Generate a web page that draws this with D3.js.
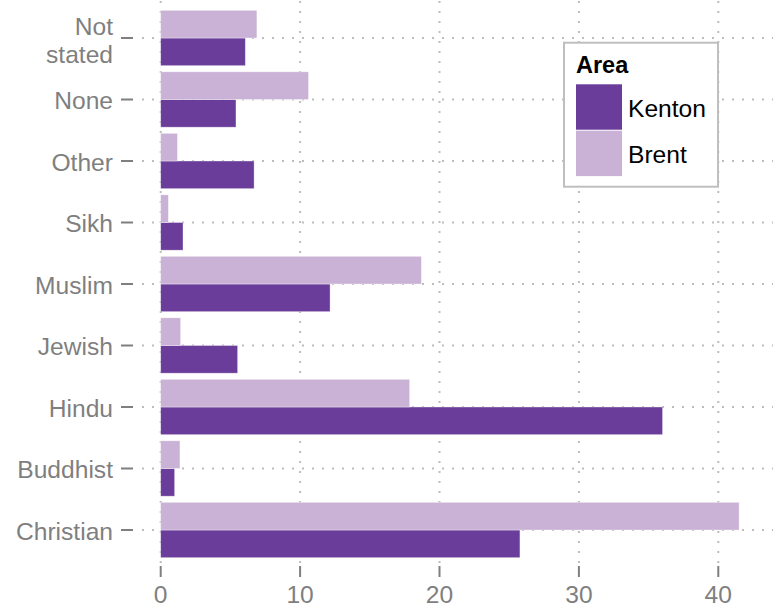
<!DOCTYPE html>
<html><head><meta charset="utf-8">
<script src="https://cdn.jsdelivr.net/npm/d3@7"></script>
<style>body{margin:0;background:#fff}svg{display:block}text{font-family:"Liberation Sans",Arial,sans-serif}</style>
</head><body>
<svg id="c" width="773" height="607"></svg>
<script>
const categories = ["Christian","Buddhist","Hindu","Jewish","Muslim","Sikh","Other","None","Not stated"];
const series = ["Kenton","Brent"];
const kenton = [25.77, 1.0, 36.0, 5.52, 12.15, 1.6, 6.7, 5.4, 6.07];
const brent  = [41.49, 1.38, 17.86, 1.43, 18.7, 0.55, 1.2, 10.6, 6.9];
const xTicks = [0, 10, 20, 30, 40];
const colors = {Kenton:"#6a3d9a", Brent:"#cab2d6"};

const svg = d3.select("#c");
const panel = {l:133, r:773, t:1.1, b:566.9};
const x = d3.scaleLinear().domain([0,40]).range([160.7, 718.3]);
const y = d3.scaleBand().domain(categories.slice().reverse())
  .range([panel.t, panel.b]).paddingInner(0.1).paddingOuter(0.15);
const yi = d3.scaleBand().domain(["Brent","Kenton"]).range([0, y.bandwidth()]);

const grid = svg.append("g").attr("stroke","#bdbdbd").attr("stroke-width",2).attr("stroke-dasharray","2,8");
grid.selectAll(".gx").data(xTicks).join("line")
  .attr("x1",d=>x(d)).attr("x2",d=>x(d)).attr("y1",panel.t).attr("y2",panel.b);
grid.selectAll(".gy").data(categories).join("line")
  .attr("x1",panel.l+9).attr("x2",panel.r).attr("y1",d=>y(d)+y.bandwidth()/2).attr("y2",d=>y(d)+y.bandwidth()/2);

const data = [];
categories.forEach((c,i)=>{ data.push({c, s:"Kenton", v:kenton[i]}); data.push({c, s:"Brent", v:brent[i]}); });
svg.append("g").selectAll("rect").data(data).join("rect")
  .attr("x", x(0)).attr("y", d=>y(d.c)+yi(d.s))
  .attr("width", d=>x(d.v)-x(0)).attr("height", yi.bandwidth())
  .attr("fill", d=>colors[d.s]).attr("stroke","#ffffff").attr("stroke-width",0.7).attr("stroke-opacity",0.5);

// y axis
const ya = svg.append("g");
categories.forEach(c=>{
  const cy = y(c)+y.bandwidth()/2;
  ya.append("line").attr("x1",121).attr("x2",133).attr("y1",cy).attr("y2",cy).attr("stroke","#7f7f7f").attr("stroke-width",2);
  const t = ya.append("text").attr("x",113).attr("text-anchor","end").attr("font-size",24.6).attr("fill","#7f7f7f");
  const parts = c === "Not stated" ? ["Not","stated"] : [c];
  parts.forEach((p,j)=>{
    const off = parts.length>1 ? 11 + (j-0.5)*27.5 : 9.8;
    t.append("tspan").attr("x",113).attr("y", cy + off).text(p);
  });
});
// x axis
const xa = svg.append("g");
xTicks.forEach(v=>{
  xa.append("line").attr("x1",x(v)).attr("x2",x(v)).attr("y1",566).attr("y2",577).attr("stroke","#7f7f7f").attr("stroke-width",2);
  xa.append("text").attr("x",x(v)).attr("y",603).attr("text-anchor","middle").attr("font-size",24.6).attr("fill","#7f7f7f").text(v);
});

// legend
const lg = svg.append("g");
lg.append("rect").attr("x",564).attr("y",42.7).attr("width",154).attr("height",144).attr("fill","#fff").attr("stroke","#bfbfbf").attr("stroke-width",2);
lg.append("text").attr("x",576).attr("y",72.7).attr("font-size",23.5).attr("font-weight","bold").attr("fill","#000").text("Area");
series.forEach((s,i)=>{
  lg.append("rect").attr("x",576).attr("y",84.3+i*46.4).attr("width",46).attr("height",45.4).attr("fill",colors[s]);
  lg.append("text").attr("x",628).attr("y",117.3+i*46).attr("font-size",24.6).attr("fill","#000").text(s);
});
</script>
</body></html>
